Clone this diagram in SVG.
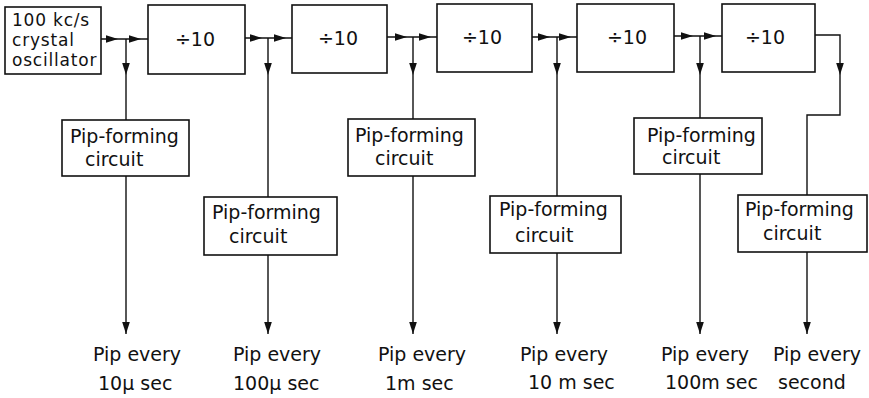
<svg xmlns="http://www.w3.org/2000/svg" xmlns:xlink="http://www.w3.org/1999/xlink" width="869" height="398" viewBox="0 0 869 398">
<style>
.box{fill:#fff;stroke:#111;stroke-width:1.6}
.ln{fill:none;stroke:#111;stroke-width:1.4}
.t{font-family:"DejaVu Sans",sans-serif;font-size:19px;fill:#111}
.o{font-family:"DejaVu Sans",sans-serif;font-size:17px;letter-spacing:0.8px;fill:#111}
.ah{fill:#111}
</style>
<defs>
<path id="ar" class="ah" d="M0,0 L-12,-3.8 L-12,3.8 Z"/>
<path id="ad" class="ah" d="M0,0 L-3.8,-12 L3.8,-12 Z"/>
</defs>
<rect width="869" height="398" fill="#fff"/>
<g id="connectors">
<path class="ln" d="M101,39 H148"/>
<path class="ln" d="M245,38 H292"/>
<path class="ln" d="M387,37 H437"/>
<path class="ln" d="M532,37 H577"/>
<path class="ln" d="M674,36 H722"/>
<path class="ln" d="M815,35 H840 V115 H807 V195"/>
<path class="ln" d="M126,39 V120 M126,176 V334"/>
<path class="ln" d="M268,38 V197 M268,255 V334"/>
<path class="ln" d="M413,37 V119 M413,176 V334"/>
<path class="ln" d="M557,37 V196 M557,253 V334"/>
<path class="ln" d="M700,36 V118 M700,174 V334"/>
<path class="ln" d="M807,252 V334"/>
<use xlink:href="#ar" x="118" y="39"/><use xlink:href="#ar" x="141" y="39"/>
<use xlink:href="#ar" x="262" y="38"/><use xlink:href="#ar" x="286" y="38"/>
<use xlink:href="#ar" x="407" y="37"/><use xlink:href="#ar" x="431" y="37"/>
<use xlink:href="#ar" x="550" y="37"/><use xlink:href="#ar" x="571" y="37"/>
<use xlink:href="#ar" x="693" y="36"/><use xlink:href="#ar" x="716" y="36"/>
<use xlink:href="#ad" x="126" y="75"/><use xlink:href="#ad" x="268" y="75"/>
<use xlink:href="#ad" x="413" y="75"/><use xlink:href="#ad" x="557" y="75"/>
<use xlink:href="#ad" x="700" y="75"/><use xlink:href="#ad" x="840" y="75"/>
<use xlink:href="#ad" x="126" y="334"/><use xlink:href="#ad" x="268" y="334"/>
<use xlink:href="#ad" x="413" y="334"/><use xlink:href="#ad" x="557" y="334"/>
<use xlink:href="#ad" x="700" y="334"/><use xlink:href="#ad" x="807" y="334"/>
</g>
<g id="oscillator">
<rect class="box" x="5" y="7" width="96" height="67"/>
<text class="o" x="12" y="26">100 kc/s</text>
<text class="o" x="12" y="46">crystal</text>
<text class="o" x="12" y="66">oscillator</text>
</g>
<g id="div1"><rect class="box" x="148" y="5" width="97" height="69"/><text class="t" x="195" y="46" text-anchor="middle">÷10</text></g>
<g id="div2"><rect class="box" x="292" y="5" width="95" height="68"/><text class="t" x="338" y="45" text-anchor="middle">÷10</text></g>
<g id="div3"><rect class="box" x="437" y="4" width="95" height="68"/><text class="t" x="482" y="44" text-anchor="middle">÷10</text></g>
<g id="div4"><rect class="box" x="577" y="4" width="97" height="68"/><text class="t" x="627" y="44" text-anchor="middle">÷10</text></g>
<g id="div5"><rect class="box" x="722" y="4" width="93" height="68"/><text class="t" x="765" y="44" text-anchor="middle">÷10</text></g>
<g id="pip1"><rect class="box" x="62" y="120" width="127" height="56"/><text class="t" x="70" y="143">Pip-forming</text><text class="t" x="85" y="166">circuit</text></g>
<g id="pip2"><rect class="box" x="204" y="197" width="133" height="58"/><text class="t" x="212" y="219">Pip-forming</text><text class="t" x="229" y="243">circuit</text></g>
<g id="pip3"><rect class="box" x="348" y="119" width="127" height="57"/><text class="t" x="355" y="142">Pip-forming</text><text class="t" x="375" y="165">circuit</text></g>
<g id="pip4"><rect class="box" x="490" y="196" width="131" height="57"/><text class="t" x="499" y="216">Pip-forming</text><text class="t" x="515" y="242">circuit</text></g>
<g id="pip5"><rect class="box" x="634" y="118" width="128" height="56"/><text class="t" x="647" y="142">Pip-forming</text><text class="t" x="662" y="164">circuit</text></g>
<g id="pip6"><rect class="box" x="738" y="195" width="129" height="57"/><text class="t" x="745" y="216">Pip-forming</text><text class="t" x="763" y="240">circuit</text></g>
<g id="out1"><text class="t" x="93" y="361">Pip every</text><text class="t" x="98" y="390">10μ sec</text></g>
<g id="out2"><text class="t" x="233" y="361">Pip every</text><text class="t" x="233" y="390">100μ sec</text></g>
<g id="out3"><text class="t" x="378" y="361">Pip every</text><text class="t" x="385" y="390">1m sec</text></g>
<g id="out4"><text class="t" x="520" y="361">Pip every</text><text class="t" x="528" y="389">10 m sec</text></g>
<g id="out5"><text class="t" x="661" y="361">Pip every</text><text class="t" x="665" y="389">100m sec</text></g>
<g id="out6"><text class="t" x="773" y="361">Pip every</text><text class="t" x="778" y="389">second</text></g>
</svg>
